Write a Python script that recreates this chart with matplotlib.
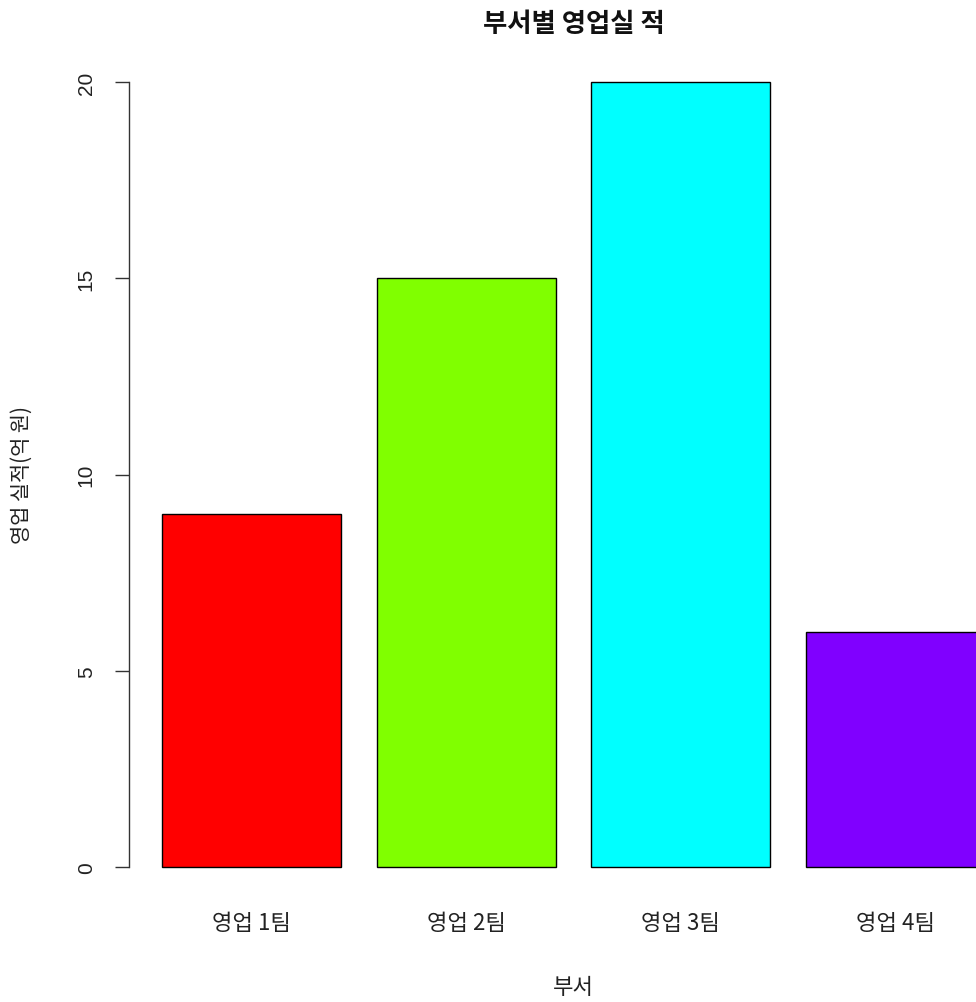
import matplotlib
matplotlib.use("Agg")
import matplotlib.pyplot as plt

plt.rcParams['font.family'] = ['Noto Sans CJK KR', 'DejaVu Sans']

teams = ['영업 1팀', '영업 2팀', '영업 3팀', '영업 4팀']
sales = [9, 15, 20, 6]
colors = ['#FF0000', '#80FF00', '#00FFFF', '#8000FF']
yticks = [0, 5, 10, 15, 20]

W, H = 976, 1003
fig = plt.figure(figsize=(W / 100, H / 100), dpi=100)
left, right, bottom, top = 129, 1018, 899.4, 51.6
ax = fig.add_axes([left / W, (H - bottom) / H, (right - left) / W, (bottom - top) / H])

width = 1.0
space = 0.2
lefts = [space + i * (width + space) for i in range(len(teams))]
ax.bar(lefts, sales, width=width, align='edge', color=colors, edgecolor='black', linewidth=1.0)

ax.set_xlim(0.016, 4.984)
ax.set_ylim(-0.8, 20.8)
for s in ['top', 'right', 'bottom']:
    ax.spines[s].set_visible(False)
ax.spines['left'].set_bounds(0, 20)
ax.spines['left'].set_color('#333333')
ax.spines['left'].set_linewidth(1.0)

ax.set_yticks(yticks)
ax.set_yticklabels([str(v) for v in yticks], rotation=90, va='center', fontsize=15,
                   color='#222222', family=['Liberation Sans', 'DejaVu Sans'])
ax.tick_params(axis='y', length=10, width=1.0, color='#333333', pad=14)

centers = [l + width / 2 for l in lefts]
ax.set_xticks(centers)
ax.set_xticklabels(teams, fontsize=16, color='#222222')
ax.tick_params(axis='x', length=0, pad=9)

ax.set_xlabel('부서', fontsize=16, color='#222222')
ax.xaxis.set_label_coords(0.5, (bottom - 988) / (bottom - top))
ax.xaxis.label.set_va('center')

ax.set_ylabel('영업 실적(억 원)', fontsize=15, color='#222222')
ax.yaxis.set_label_coords((22 - left) / (right - left), 0.5)
ax.yaxis.label.set_va('center')

ax.text(0.5, 1 + (top - 24) / (bottom - top), '부서별 영업실 적', transform=ax.transAxes,
        ha='center', va='center', fontsize=19, fontweight='bold', color='#111111')

fig.savefig('out.png', dpi=100)
